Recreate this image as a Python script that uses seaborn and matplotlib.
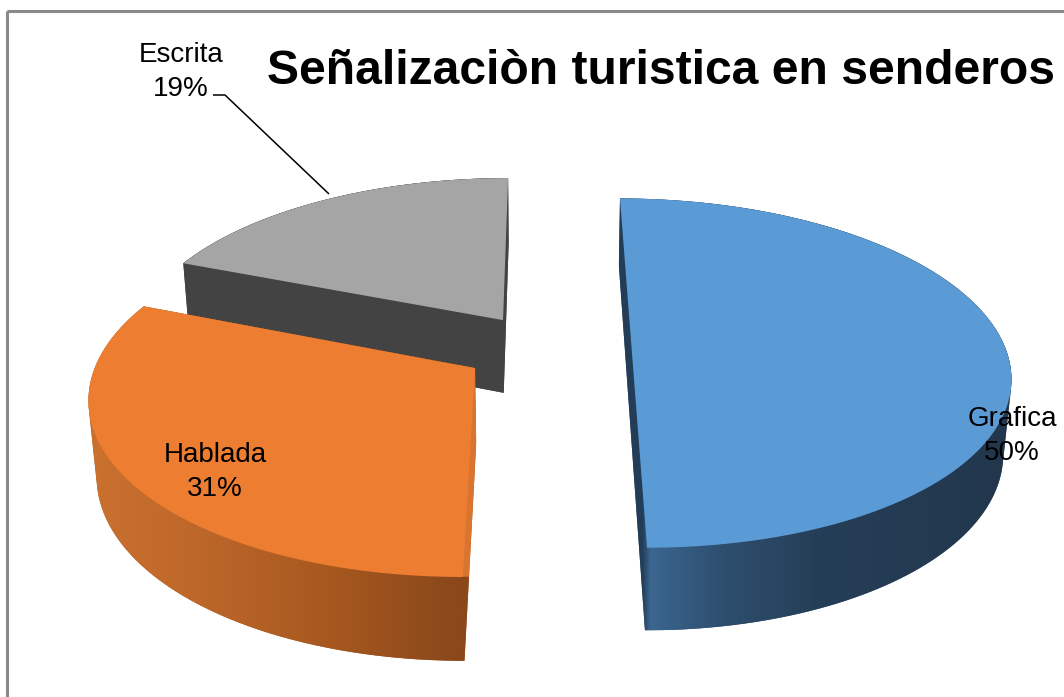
import numpy as np
import matplotlib
matplotlib.use("Agg")
import matplotlib.pyplot as plt
import matplotlib.transforms as mtransforms
from matplotlib.path import Path
from matplotlib.patches import Polygon, Rectangle
import seaborn as sns

# ---------------- data ----------------
categories = ["Grafica", "Hablada", "Escrita"]
values = [50, 31, 19]
pct_labels = ["50%", "31%", "19%"]
title = "Señalizaciòn turistica en senderos"

# ---------------- style ----------------
top_colors = ["#5b9bd5", "#ed7d31", "#a5a5a5"]
explode = [0.237, 0.216, 0.195]
# side gradient stops (pixel x, colour) per slice
side_stops = [
    [(600, "#233d58"), (642, "#233d58"), (650, "#3b6690"), (720, "#2e4f70"),
     (820, "#253e57"), (1010, "#22374c")],
    [(80, "#cc7230"), (200, "#bd672a"), (330, "#a7581f"), (455, "#8a481b"),
     (480, "#8a481b")],
    [(150, "#434343"), (520, "#434343")],
]
# thin radial face visible beside the top face: (min x, max y, colour)
sliver = [None, (458, 577, "#d97530"), None]
draw_order = [2, 1, 0]  # back to front

sns.set_theme(style="white")
plt.rcParams["font.family"] = ["Liberation Sans", "DejaVu Sans"]

W, H = 1064, 697
fig = plt.figure(figsize=(W / 100, H / 100), dpi=100)
ax = fig.add_axes([0, 0, 1, 1])

# ---------------- simple perspective camera ----------------
CX, CY, FOC, ELEV, DIST = 543.0, 347.0, 2222.0, np.deg2rad(27.2), 5.95
THICK = 0.2265


class Persp(mtransforms.Transform):
    input_dims = 2
    output_dims = 2
    is_separable = False
    has_inverse = False

    def __init__(self, z):
        super().__init__()
        self.z = z

    def transform_non_affine(self, xy):
        xy = np.atleast_2d(np.asarray(xy, float))
        X, Y = xy[:, 0], xy[:, 1]
        s, c = np.sin(ELEV), np.cos(ELEV)
        d = DIST + Y * c - self.z * s
        u = CX + FOC * X / d
        v = CY - FOC * (Y * s + self.z * c) / d
        return np.column_stack([u, v])

    def transform_path_non_affine(self, path):
        sc = 1000.0
        polys = path.to_polygons(transform=mtransforms.Affine2D().scale(sc),
                                 closed_only=False)
        out = [Path(self.transform_non_affine(np.asarray(p) / sc)) for p in polys]
        return Path.make_compound_path(*out) if len(out) > 1 else out[0]


def hull(pts):
    pts = sorted(set(map(tuple, np.round(pts, 3))))

    def cross(o, a, b):
        return (a[0] - o[0]) * (b[1] - o[1]) - (a[1] - o[1]) * (b[0] - o[0])

    lower, upper = [], []
    for p in pts:
        while len(lower) >= 2 and cross(lower[-2], lower[-1], p) <= 0:
            lower.pop()
        lower.append(p)
    for p in reversed(pts):
        while len(upper) >= 2 and cross(upper[-2], upper[-1], p) <= 0:
            upper.pop()
        upper.append(p)
    return np.array(lower[:-1] + upper[:-1])


# top faces and bottom faces drawn with the pie routine
top_wedges, _ = ax.pie(values, explode=explode, startangle=90, counterclock=False,
                       colors=top_colors, radius=1, center=(0, 0), labeldistance=None,
                       wedgeprops=dict(linewidth=0, antialiased=True))
bot_wedges, _ = ax.pie(values, explode=explode, startangle=90, counterclock=False,
                       colors=top_colors, radius=1, center=(0, 0), labeldistance=None,
                       wedgeprops=dict(linewidth=0))

ptop, pbot = Persp(0.0), Persp(-THICK)
for rank, i in enumerate(draw_order):
    wt, wb = top_wedges[i], bot_wedges[i]
    pts_t = ptop.transform_path_non_affine(wt.get_path()).vertices
    pts_b = pbot.transform_path_non_affine(wb.get_path()).vertices
    wb.set_visible(False)
    hp = hull(np.vstack([pts_t, pts_b]))
    poly = Polygon(hp, closed=True, transform=ax.transData,
                   facecolor=side_stops[i][len(side_stops[i]) // 2][1],
                   edgecolor="none", zorder=10 * rank + 1)
    ax.add_patch(poly)
    x0, x1 = hp[:, 0].min(), hp[:, 0].max()
    y0, y1 = hp[:, 1].min(), hp[:, 1].max()
    xs = np.linspace(x0, x1, 600)
    ys = np.linspace(y0, y1, 400)
    sx = [s[0] for s in side_stops[i]]
    cols = np.array([matplotlib.colors.to_rgb(s[1]) for s in side_stops[i]])
    row = np.stack([np.interp(xs, sx, cols[:, k]) for k in range(3)], axis=-1)
    grad = np.repeat(row[None, :, :], len(ys), axis=0)
    if sliver[i] is not None:
        sxmin, symax, scol = sliver[i]
        mask = (xs[None, :] > sxmin) & (ys[:, None] < symax)
        grad[mask] = matplotlib.colors.to_rgb(scol)
    im = ax.imshow(grad, extent=(x0, x1, y1, y0), origin="upper", aspect="auto",
                   interpolation="bilinear", zorder=10 * rank + 2)
    im.set_clip_path(poly)
    wt.set_transform(ptop + ax.transData)
    wt.set_zorder(10 * rank + 3)

# ---------------- labels ----------------
lab_pos = {"Grafica": (1012, 426, 460), "Hablada": (215, 462, 496),
           "Escrita": (181, 62, 96)}
for cat, pct in zip(categories, pct_labels):
    x, yb1, yb2 = lab_pos[cat]
    ax.text(x, yb1, cat, ha="center", va="baseline", fontsize=20, color="black",
            zorder=100)
    ax.text(x, yb2, pct, ha="center", va="baseline", fontsize=20, color="black",
            zorder=100)

ax.plot([213, 225, 329], [95, 95, 194], color="black", lw=1.1, zorder=100,
        solid_capstyle="butt")

ax.text(661, 84, title, ha="center", va="baseline", fontsize=34.6,
        fontweight="bold", color="black", zorder=100)

ax.add_patch(Rectangle((7, 11), 1090, 720, fill=False, edgecolor="#898989",
                       linewidth=2.2, zorder=200, clip_on=False))

ax.set_autoscale_on(False)
ax.set_aspect("auto")
ax.set_xlim(0, W)
ax.set_ylim(H, 0)
ax.axis("off")

fig.savefig("out.png", dpi=100, facecolor="white")
